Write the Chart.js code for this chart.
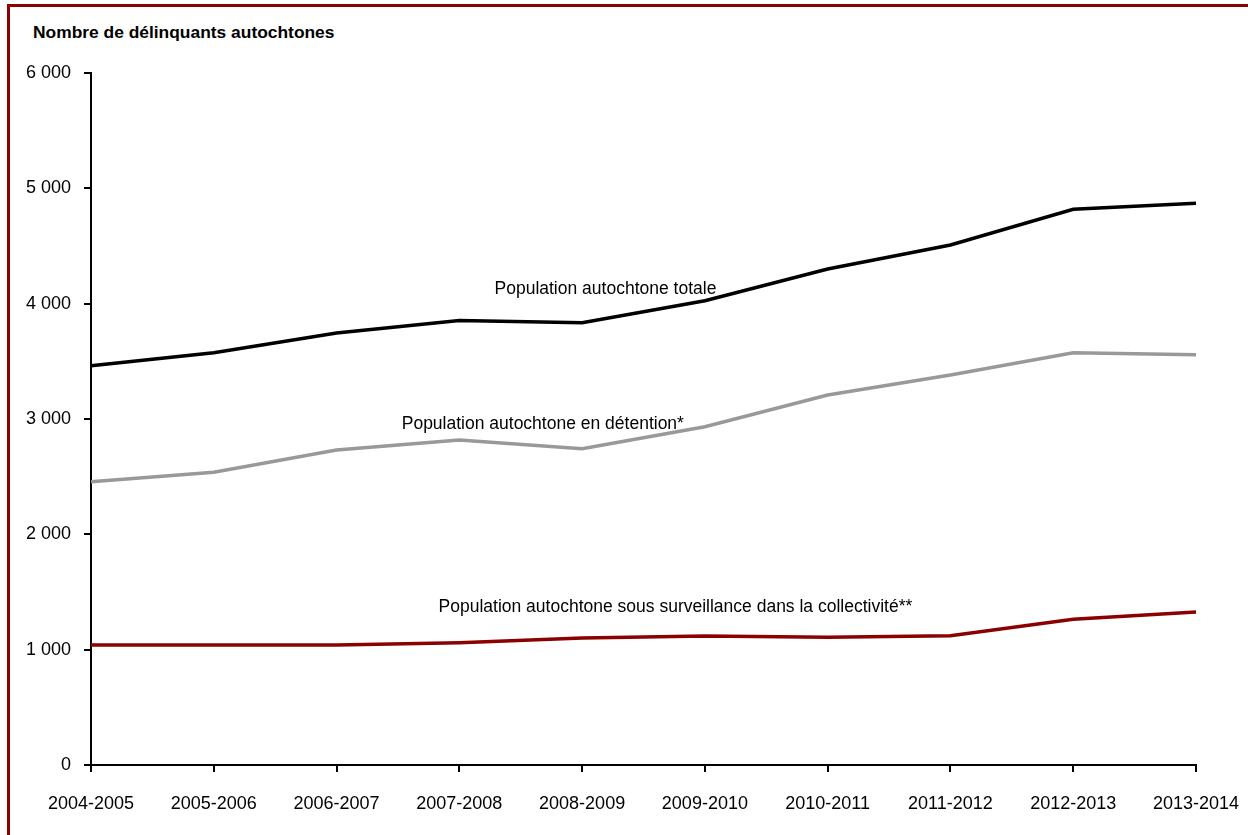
<!DOCTYPE html>
<html lang="fr">
<head>
<meta charset="utf-8">
<script src="https://cdn.jsdelivr.net/npm/chart.js@4"></script>
<style>
  html, body { margin: 0; padding: 0; background: #fff; }
  #wrap { position: relative; width: 1248px; height: 835px; overflow: hidden; }
  #frame { position: absolute; left: 7px; top: 4px; right: -10px; bottom: -10px;
           border-top: 3px solid #8b0000; border-left: 3px solid #8b0000; }
  #ttl { position: absolute; left: 33px; top: 22px; font: bold 17.4px 'Liberation Sans', Arial, sans-serif; color: #000; }
  canvas { position: absolute; left: 0; top: 0; }
</style>
</head>
<body>
<div id="wrap">
  <div id="frame"></div>
  <div id="ttl">Nombre de délinquants autochtones</div>
  <canvas id="c" width="1248" height="835"></canvas>
</div>
<script>
/* Délinquants autochtones : total, en détention, sous surveillance dans la collectivité */
const FONT = "'Liberation Sans', Arial, sans-serif";

const annees = ['2004-2005','2005-2006','2006-2007','2007-2008','2008-2009',
                '2009-2010','2010-2011','2011-2012','2012-2013','2013-2014'];
const totale       = [3462, 3575, 3746, 3853, 3835, 4026, 4300, 4509, 4818, 4870];
const detention    = [2456, 2538, 2731, 2818, 2743, 2933, 3208, 3382, 3575, 3558];
const collectivite = [1040, 1040, 1040, 1060, 1101, 1118, 1107, 1121, 1263, 1327];
const yTicks = [0, 1000, 2000, 3000, 4000, 5000, 6000];

// libellés posés sur le graphique (x = indice de catégorie, y = valeur)
const etiquettes = [
  { txt: 'Population autochtone totale', x: 4.19, y: 4127 },
  { txt: 'Population autochtone en détention*', x: 3.68, y: 2957 },
  { txt: 'Population autochtone sous surveillance dans la collectivité**', x: 4.76, y: 1370 }
];

const fmtNb = v => String(v).replace(/\B(?=(\d{3})+(?!\d))/g, ' ');

const labelsPlugin = {
  id: 'etiquettes',
  afterDatasetsDraw(chart) {
    const { ctx, scales: { x, y } } = chart;
    ctx.save();
    ctx.font = '17.5px ' + FONT;
    ctx.fillStyle = '#000';
    ctx.textAlign = 'center';
    ctx.textBaseline = 'middle';
    etiquettes.forEach(e => ctx.fillText(e.txt, x.getPixelForValue(e.x), y.getPixelForValue(e.y)));
    ctx.restore();
  }
};

const ligne = (data, color) => ({
  data, borderColor: color, borderWidth: 3.5, pointRadius: 0, tension: 0, fill: false
});

new Chart(document.getElementById('c'), {
  type: 'line',
  data: { labels: annees, datasets: [
    ligne(collectivite, '#8b0000'),
    ligne(detention, '#999999'),
    ligne(totale, '#000000')
  ] },
  options: {
    responsive: false, animation: false,
    layout: { padding: { top: 73, right: 52, left: 0, bottom: 0 } },
    plugins: { legend: { display: false }, tooltip: { enabled: false } },
    scales: {
      x: {
        offset: false,
        afterFit: s => { s.height = 70; s.paddingLeft = 0; s.paddingRight = 0; },
        grid: { drawOnChartArea: false, drawTicks: true, tickLength: 7, color: '#000', lineWidth: 2 },
        border: { display: true, color: '#000', width: 2 },
        ticks: { autoSkip: false, maxRotation: 0, padding: 21, color: '#000', font: { family: FONT, size: 18 } }
      },
      y: {
        min: 0, max: 6000,
        afterFit: s => { s.width = 91; },
        afterBuildTicks: s => { s.ticks = yTicks.map(v => ({ value: v })); },
        grid: { drawOnChartArea: false, drawTicks: true, tickLength: 7, color: '#000', lineWidth: 2 },
        border: { display: true, color: '#000', width: 2 },
        ticks: { padding: 13, color: '#000', font: { family: FONT, size: 18 }, callback: v => fmtNb(v) }
      }
    }
  },
  plugins: [labelsPlugin]
});
</script>
</body>
</html>
